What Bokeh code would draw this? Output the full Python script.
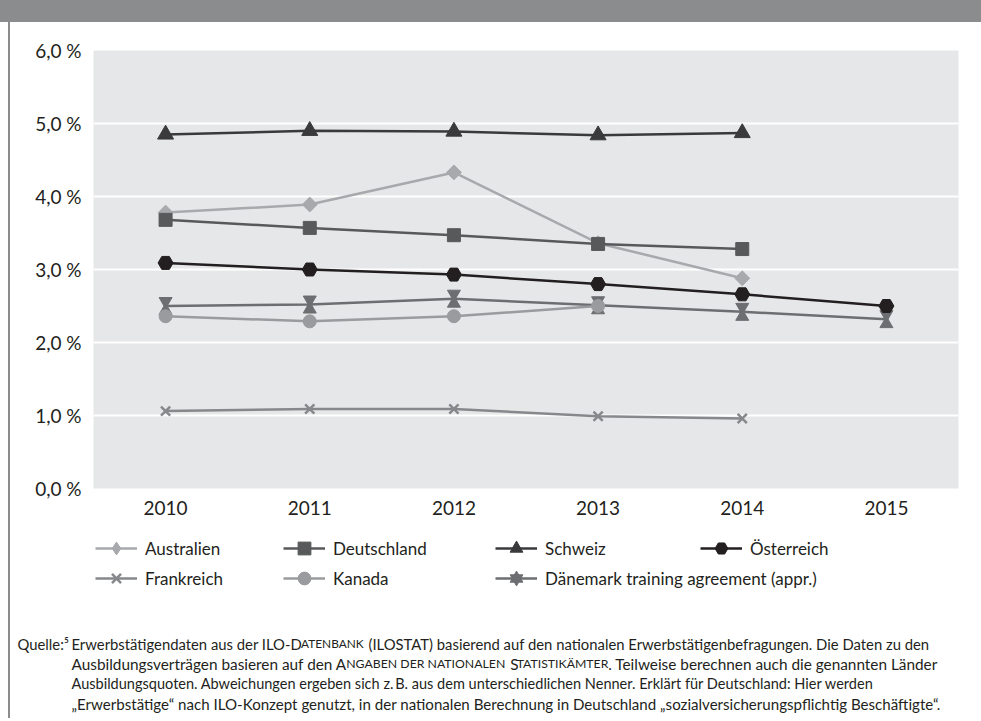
import math
import glob
import struct
import subprocess
from bokeh.plotting import figure
from bokeh.layouts import column, row
from bokeh.models import (ColumnDataSource, FactorRange, Range1d, Legend, LegendItem,
                          Label, FixedTicker, Div)
from bokeh.transform import dodge
from bokeh.embed import file_html
from bokeh.resources import INLINE

# ---------------- data ----------------
years = ["2010", "2011", "2012", "2013", "2014", "2015"]
australien = [3.78, 3.89, 4.33, 3.36, 2.88]
deutschland = [3.68, 3.57, 3.47, 3.35, 3.28]
schweiz = [4.85, 4.90, 4.89, 4.84, 4.87]
oesterreich = [3.09, 3.00, 2.93, 2.80, 2.66, 2.50]
frankreich = [1.06, 1.09, 1.09, 0.99, 0.96]
kanada = [2.36, 2.29, 2.36, 2.50]
daenemark = [2.50, 2.52, 2.60, 2.51, 2.42, 2.32]

y_ticks = [0, 1, 2, 3, 4, 5, 6]
y_tick_labels = ["0,0\u202f%", "1,0\u202f%", "2,0\u202f%", "3,0\u202f%", "4,0\u202f%", "5,0\u202f%", "6,0\u202f%"]

# source note: (text, is_small_caps) pieces per line
source_prefix = "Quelle:\u2075"
source_lines = [
    [("Erwerbstätigendaten aus der ILO-D", False), ("ATENBANK", True),
     (" (ILOSTAT) basierend auf den nationalen Erwerbstätigenbefragungen. Die Daten zu den", False)],
    [("Ausbildungsverträgen basieren auf den A", False), ("NGABEN DER NATIONALEN", True),
     (" S", False), ("TATISTIKÄMTER", True), (". Teilweise berechnen auch die genannten Länder", False)],
    [("Ausbildungsquoten. Abweichungen ergeben sich z.\u2009B. aus dem unterschiedlichen Nenner. "
      "Erklärt für Deutschland: Hier werden", False)],
    [("\u201eErwerbstätige\u201c nach ILO-Konzept genutzt, in der nationalen Berechnung in Deutschland "
      "\u201esozialversicherungspflichtig Beschäftigte\u201c.", False)],
]

FONT = "Lato"
TXT = "#231f20"
GREY_BAR = "#8b8c8e"


# ---------------- text width measurement (font metrics) ----------------
def _load_metrics():
    path = ""
    try:
        path = subprocess.run(["fc-match", "-f", "%{file}", "Lato:style=Regular"],
                              capture_output=True, text=True, timeout=10).stdout.strip()
    except Exception:
        path = ""
    if not path or "lato" not in path.lower():
        cands = glob.glob("/usr/share/fonts/**/Lato-Regular.*", recursive=True)
        path = cands[0] if cands else ""
    if not path:
        return None
    data = open(path, "rb").read()
    ntab = struct.unpack(">H", data[4:6])[0]
    tables = {}
    for i in range(ntab):
        tag, _, off, ln = struct.unpack(">4sIII", data[12 + 16 * i: 28 + 16 * i])
        tables[tag.decode("latin1")] = off
    head = tables["head"]
    upem = struct.unpack(">H", data[head + 18: head + 20])[0]
    hhea = tables["hhea"]
    nhm = struct.unpack(">H", data[hhea + 34: hhea + 36])[0]
    hmtx = tables["hmtx"]
    adv = [struct.unpack(">H", data[hmtx + 4 * i: hmtx + 4 * i + 2])[0] for i in range(nhm)]
    cm = tables["cmap"]
    n = struct.unpack(">H", data[cm + 2: cm + 4])[0]
    sub = None
    for i in range(n):
        pid, eid, off = struct.unpack(">HHI", data[cm + 4 + 8 * i: cm + 12 + 8 * i])
        fmt = struct.unpack(">H", data[cm + off: cm + off + 2])[0]
        if fmt == 12:
            sub = (12, cm + off)
            break
        if fmt == 4 and sub is None:
            sub = (4, cm + off)
    fmt, o = sub
    mapping = {}
    if fmt == 4:
        segx2 = struct.unpack(">H", data[o + 6: o + 8])[0]
        segs = segx2 // 2
        ends = struct.unpack(">%dH" % segs, data[o + 14: o + 14 + segx2])
        starts = struct.unpack(">%dH" % segs, data[o + 16 + segx2: o + 16 + 2 * segx2])
        deltas = struct.unpack(">%dh" % segs, data[o + 16 + 2 * segx2: o + 16 + 3 * segx2])
        rpos = o + 16 + 3 * segx2
        roffs = struct.unpack(">%dH" % segs, data[rpos: rpos + segx2])
        for s in range(segs):
            for c in range(starts[s], ends[s] + 1):
                if c == 0xFFFF:
                    continue
                if roffs[s] == 0:
                    g = (c + deltas[s]) & 0xFFFF
                else:
                    addr = rpos + 2 * s + roffs[s] + 2 * (c - starts[s])
                    g = struct.unpack(">H", data[addr: addr + 2])[0]
                    if g:
                        g = (g + deltas[s]) & 0xFFFF
                mapping[c] = g
    else:
        ng = struct.unpack(">I", data[o + 12: o + 16])[0]
        for k in range(ng):
            sc, ec, sg = struct.unpack(">III", data[o + 16 + 12 * k: o + 28 + 12 * k])
            for c in range(sc, min(ec, 0x2FFFF) + 1):
                mapping[c] = sg + c - sc
    return upem, adv, mapping


try:
    _METRICS = _load_metrics()
except Exception:
    _METRICS = None


def text_width(text, size):
    if _METRICS is None:
        return 0.5 * size * len(text)
    upem, adv, mapping = _METRICS
    total = 0
    for ch in text:
        g = mapping.get(ord(ch), 0)
        total += adv[min(g, len(adv) - 1)]
    return total * size / upem


# ---------------- layout geometry (canvas pixels) ----------------
BAR_H = 22
STRIP_W = 10
CHART_BOTTOM = 530
FRAME_L, FRAME_R, FRAME_T, FRAME_B = 93, 958, 50, 488
W, H = 981, 721

p = figure(width=W - STRIP_W, height=CHART_BOTTOM - BAR_H,
           x_range=FactorRange(*years), y_range=Range1d(0, 6),
           output_backend="svg", toolbar_location=None, frame_align=False,
           min_border_left=FRAME_L - STRIP_W, min_border_right=W - FRAME_R,
           min_border_top=FRAME_T - BAR_H, min_border_bottom=CHART_BOTTOM - FRAME_B)
p.background_fill_color = "#e6e7e8"
p.border_fill_color = "white"
p.outline_line_color = None

p.xgrid.grid_line_color = None
p.ygrid.grid_line_color = "white"
p.ygrid.grid_line_width = 2
p.yaxis.ticker = FixedTicker(ticks=y_ticks)
p.yaxis.major_label_overrides = {t: l for t, l in zip(y_ticks, y_tick_labels)}
for ax in (p.xaxis, p.yaxis):
    ax.axis_line_color = None
    ax.major_tick_line_color = None
    ax.minor_tick_line_color = None
    ax.major_label_text_font = FONT
    ax.major_label_text_font_size = "19px"
    ax.major_label_text_color = TXT
p.yaxis.major_label_standoff = 6
p.xaxis.major_label_standoff = 6

LW = 2.5

styles = {
    "Australien": dict(color="#a7a9ac", marker="square", size=10.5, angle=math.pi / 4, lmarker="diamond"),
    "Deutschland": dict(color="#58595b", marker="square", size=13, angle=0, lmarker="square"),
    "Schweiz": dict(color="#3a3a3c", marker="triangle", size=16, angle=0, lmarker="triangle"),
    "Österreich": dict(color="#231f20", marker="hex", size=15, angle=0, lmarker="hex"),
    "Frankreich": dict(color="#86888b", marker="x", size=13, angle=0, lmarker="x"),
    "Kanada": dict(color="#9a9b9e", marker="circle", size=13, angle=0, lmarker="circle"),
}
C_DAE = "#6d6e71"


def series(fig, vals, name):
    st = styles[name]
    src = ColumnDataSource(dict(x=years[:len(vals)], y=vals))
    ln = fig.line("x", "y", source=src, line_color=st["color"], line_width=LW)
    sc = fig.scatter("x", "y", source=src, marker=st["marker"], size=st["size"],
                     angle=st["angle"], fill_color=st["color"], line_color=st["color"],
                     line_width=2.5 if st["marker"] == "x" else 1)
    return [ln, sc]


src_dae = ColumnDataSource(dict(x=years[:len(daenemark)], y=daenemark))
p.line("x", "y", source=src_dae, line_color=C_DAE, line_width=LW)
p.scatter("x", dodge("y", 0.065), source=src_dae, marker="inverted_triangle",
          size=13, fill_color=C_DAE, line_color=C_DAE)
p.scatter("x", dodge("y", -0.065), source=src_dae, marker="triangle",
          size=13, fill_color=C_DAE, line_color=C_DAE)
series(p, kanada, "Kanada")
series(p, frankreich, "Frankreich")
series(p, oesterreich, "Österreich")
series(p, australien, "Australien")
series(p, deutschland, "Deutschland")
series(p, schweiz, "Schweiz")

# ---------------- lower figure: legend + source note ----------------
LOW_H = H - CHART_BOTTOM
q = figure(width=W - STRIP_W, height=LOW_H,
           x_range=Range1d(STRIP_W, W), y_range=Range1d(H, CHART_BOTTOM),
           x_axis_type=None, y_axis_type=None, frame_align=False,
           output_backend="svg", toolbar_location=None,
           min_border=0, min_border_left=0, min_border_right=0,
           min_border_top=0, min_border_bottom=0)
q.background_fill_color = "white"
q.border_fill_color = "white"
q.outline_line_color = None

# hidden proxy renderers, only used to draw the legend swatches
proxy = ColumnDataSource(dict(x=[0], y=[0]))


def legend_swatch(name):
    st = styles[name]
    ln = q.line("x", "y", source=proxy, line_color=st["color"], line_width=LW, visible=False)
    sc = q.scatter("x", "y", source=proxy, marker=st["lmarker"], size=st["size"],
                   fill_color=st["color"], line_color=st["color"],
                   line_width=2.5 if st["marker"] == "x" else 1, visible=False)
    return [ln, sc]


dae_sw = [q.line("x", "y", source=proxy, line_color=C_DAE, line_width=LW, visible=False),
          q.scatter("x", "y", source=proxy, marker="inverted_triangle", size=12,
                    fill_color=C_DAE, line_color=C_DAE, visible=False),
          q.scatter("x", "y", source=proxy, marker="triangle", size=12,
                    fill_color=C_DAE, line_color=C_DAE, visible=False)]

GH = 32
legend_entries = [
    ("Australien", legend_swatch("Australien"), 95, 548),
    ("Deutschland", legend_swatch("Deutschland"), 283, 548),
    ("Schweiz", legend_swatch("Schweiz"), 495, 548),
    ("Österreich", legend_swatch("Österreich"), 700, 548),
    ("Frankreich", legend_swatch("Frankreich"), 95, 578),
    ("Kanada", legend_swatch("Kanada"), 283, 578),
    ("Dänemark training agreement (appr.)", dae_sw, 495, 578),
]
for label, rends, sx, sy in legend_entries:
    lg = Legend(items=[LegendItem(label=label, renderers=rends)],
                location=(sx - STRIP_W, H - (sy + GH / 2)),
                orientation="horizontal", padding=0, margin=0, spacing=0,
                border_line_color=None, background_fill_alpha=0,
                inactive_fill_alpha=0, click_policy="none",
                glyph_width=42, glyph_height=GH, label_standoff=8,
                label_text_font=FONT, label_text_font_size="17px",
                label_text_color=TXT, label_height=GH)
    q.add_layout(lg, "center")

# ---------------- source note ----------------
BASE = 15.0
SC_RATIO = 0.8
INDENT = 71
JOIN_FIX = 2.0      # tighter join between a capital and its small-caps continuation
line_y = [643, 663, 683, 703]
line_end = [935, 946, 877, 946]

for li, (pieces, sy, x_end) in enumerate(zip(source_lines, line_y, line_end)):
    w_base = sum(text_width(t, BASE * (SC_RATIO if sc else 1)) for t, sc in pieces)
    size = BASE * (x_end - INDENT) / w_base if w_base > 0 else BASE
    size = max(13.5, min(16.0, size))
    if li == 0:
        q.add_layout(Label(x=17, y=sy, text=source_prefix, text_font=FONT,
                           text_font_size="%.2fpx" % size, text_color=TXT,
                           text_baseline="middle", text_align="left"))
    cx = INDENT
    prev_ends_space = True
    for t, sc in pieces:
        fs = size * (SC_RATIO if sc else 1)
        lead = len(t) - len(t.lstrip(" "))
        if lead:
            cx += text_width(" " * lead, fs)
        elif not prev_ends_space:
            cx -= JOIN_FIX
        body = t.lstrip(" ")
        q.add_layout(Label(x=cx, y=sy, text=body, text_font=FONT,
                           text_font_size="%.2fpx" % fs, text_color=TXT,
                           text_baseline="middle", text_align="left"))
        cx += text_width(body, fs)
        prev_ends_space = body.endswith(" ")

bar = Div(text="", width=W, height=BAR_H, margin=0,
          styles={"background-color": GREY_BAR})
strip = Div(text="", width=STRIP_W, height=H - BAR_H - 3, margin=0,
            styles={"background": "linear-gradient(to right, white 8px, %s 8px)" % GREY_BAR})

layout = column(bar, row(strip, column(p, q, spacing=0), spacing=0), spacing=0)
open("out.html", "w").write(file_html(layout, INLINE))
